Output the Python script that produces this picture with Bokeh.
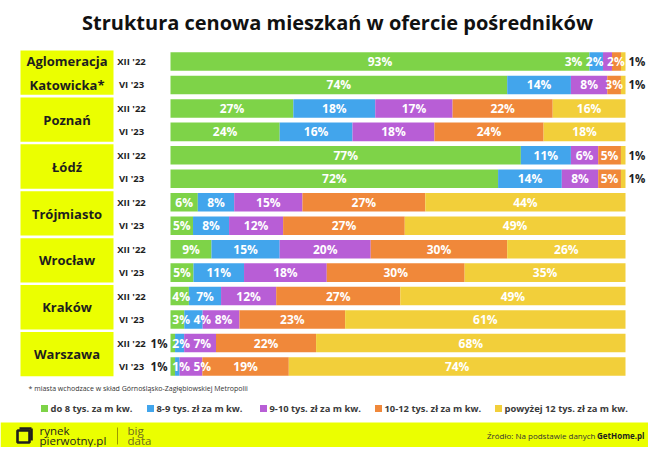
from bokeh.plotting import figure
from bokeh.models import Range1d, ColumnDataSource
from bokeh.core.properties import value
from bokeh.embed import file_html
from bokeh.resources import INLINE

# ---------------- data ----------------
cities = ["Aglomeracja\nKatowicka*", "Poznań", "Łódź", "Trójmiasto", "Wrocław", "Kraków", "Warszawa"]
periods = ["XII '22", "VI '23"]
categories = ["do 8 tys. za m kw.", "8-9 tys. zł za m kw.", "9-10 tys. zł za m kw.",
              "10-12 tys. zł za m kw.", "powyżej 12 tys. zł za m kw."]
colors = ["#7ED348", "#42A5EC", "#B85ED6", "#F0883A", "#F2CF3A"]

do8 =    [93, 74, 27, 24, 77, 72, 6, 5, 9, 5, 4, 3, 1, 1]
r8_9 =   [3, 14, 18, 16, 11, 14, 8, 8, 15, 11, 7, 4, 2, 1]
r9_10 =  [2, 8, 17, 18, 6, 8, 15, 12, 20, 18, 12, 8, 7, 5]
r10_12 = [2, 3, 22, 24, 5, 5, 27, 27, 30, 30, 27, 23, 22, 19]
pow12 =  [1, 1, 16, 18, 1, 1, 44, 49, 26, 35, 49, 61, 68, 74]
series = [do8, r8_9, r9_10, r10_12, pow12]

title = "Struktura cenowa mieszkań w ofercie pośredników"
footnote = "* miasta wchodzace w skład Górnośląsko-Zagłębiowskiej Metropolii"

# ---------------- layout helpers ----------------
W, H = 648, 447
X0, SX = 170.0, 4.55          # pixel of 0 % and pixels per %
Y0, SY = 61.0, 23.46          # pixel of row 0 and pixels per row

def dx(px):
    return (px - X0) / SX

def dy(py):
    return (py - Y0) / SY

FONT = "Open Sans"
LIME = "#EBFF00"
DARK = "#1E1E1E"

p = figure(width=W, height=H, x_range=Range1d(dx(0), dx(W)), y_range=Range1d(dy(H), dy(0)),
           output_backend="svg", toolbar_location=None, min_border=0)
p.axis.visible = False
p.grid.visible = False
p.outline_line_color = None
p.background_fill_color = "white"
p.border_fill_color = "white"

n_rows = len(do8)
rows = list(range(n_rows))

# ---------------- group boxes ----------------
box_src = dict(left=[], right=[], top=[], bottom=[])
for g in range(len(cities)):
    box_src["left"].append(dx(20))
    box_src["right"].append(dx(113))
    box_src["top"].append(2 * g - 0.47)
    box_src["bottom"].append(2 * g + 1 + 0.42)
p.quad(source=ColumnDataSource(box_src), left="left", right="right", top="top", bottom="bottom",
       fill_color=LIME, line_color=None)

for g, name in enumerate(cities):
    p.text(x=[dx(66.5)], y=[2 * g + 0.48], text=[name], text_align="center", text_baseline="middle",
           text_font=value(FONT), text_font_style="bold", text_font_size="13px", text_color=DARK,
           text_line_height=1.35)

# period labels
p.text(x=[dx(131)] * n_rows, y=rows, text=[periods[i % 2] for i in rows], text_align="center",
       text_baseline="middle", text_font=value(FONT), text_font_style="bold", text_font_size="9.5px",
       text_color=DARK)

# ---------------- bars ----------------
totals = [sum(s[i] for s in series) for i in rows]
cum = [0.0] * n_rows
seg_bounds = []
for k, s in enumerate(series):
    left = [cum[i] for i in rows]
    right = [cum[i] + s[i] * 100.0 / totals[i] for i in rows]
    cum = right
    seg_bounds.append((left, right))
    p.hbar(y=rows, left=left, right=right, height=0.79, fill_color=colors[k], line_color=None)

# ---------------- value labels ----------------
def tw(v):
    return 7.2 * len(str(v)) + 10.0   # approximate label width in px

in_x, in_y, in_t = [], [], []
out_l = dict(x=[], y=[], t=[])
out_r = dict(x=[], y=[], t=[])
last = len(series) - 1
for i in rows:
    inner = []
    for k, s in enumerate(series):
        v = s[i]
        lft, rgt = seg_bounds[k][0][i], seg_bounds[k][1][i]
        if k == 0 and v <= 1:
            out_l["x"].append(dx(X0 - 3)); out_l["y"].append(i); out_l["t"].append(f"{v}%")
        elif k == last and v <= 1:
            out_r["x"].append(dx(X0 + 100 * SX + 3)); out_r["y"].append(i); out_r["t"].append(f"{v}%")
        else:
            inner.append([X0 + (lft + rgt) / 2 * SX, v])
    pos = []
    for j, (c, v) in enumerate(inner):
        if j == 0:
            pos.append(max(c, X0 + tw(v) / 2 + 2))
        else:
            pos.append(max(c, pos[-1] + (tw(inner[j - 1][1]) + tw(v)) / 2 + 4))
    lim = X0 + 100 * SX
    for j in range(len(inner) - 1, -1, -1):
        v = inner[j][1]
        if j == len(inner) - 1:
            pos[j] = min(pos[j], lim - tw(v) / 2 - 1)
        else:
            pos[j] = min(pos[j], pos[j + 1] - (tw(v) + tw(inner[j + 1][1])) / 2 - 4)
    for j, (c, v) in enumerate(inner):
        in_x.append(dx(pos[j])); in_y.append(i); in_t.append(f"{v}%")

p.text(x=in_x, y=in_y, text=in_t, text_align="center", text_baseline="middle", text_font=value(FONT),
       text_font_style="bold", text_font_size="12px", text_color="white")
p.text(x=out_l["x"], y=out_l["y"], text=out_l["t"], text_align="right", text_baseline="middle",
       text_font=value(FONT), text_font_style="bold", text_font_size="11.5px", text_color=DARK)
p.text(x=out_r["x"], y=out_r["y"], text=out_r["t"], text_align="left", text_baseline="middle",
       text_font=value(FONT), text_font_style="bold", text_font_size="11.5px", text_color=DARK)

# ---------------- title & footnote ----------------
p.text(x=[dx(337)], y=[dy(22)], text=[title], text_align="center", text_baseline="middle",
       text_font=value(FONT), text_font_style="bold", text_font_size="20px", text_color="#111111")
p.text(x=[dx(28)], y=[dy(388)], text=[footnote], text_align="left", text_baseline="middle",
       text_font=value(FONT), text_font_size="7px", text_color="#333333")

# ---------------- legend ----------------
leg_sq = [44, 150, 263, 378, 498]
for k, cat in enumerate(categories):
    p.rect(x=[dx(leg_sq[k])], y=[dy(408)], width=7, height=7, width_units="screen", height_units="screen",
           fill_color=colors[k], line_color=None)
    p.text(x=[dx(leg_sq[k] + 6)], y=[dy(408)], text=[cat], text_align="left", text_baseline="middle",
           text_font=value(FONT), text_font_style="bold", text_font_size="9.4px", text_color="#3A3A3A")

# ---------------- footer ----------------
p.quad(left=[dx(0)], right=[dx(W)], top=[dy(422)], bottom=[dy(H + 4)], fill_color=LIME, line_color=None)
p.quad(left=[dx(17)], right=[dx(29)], top=[dy(430)], bottom=[dy(442)], fill_color=None,
       line_color=DARK, line_width=2.6)
p.line(x=[dx(19), dx(31)], y=[dy(428), dy(428)], line_color=DARK, line_width=2.6)
p.line(x=[dx(31), dx(31)], y=[dy(428), dy(440)], line_color=DARK, line_width=2.6)
p.text(x=[dx(39)] * 2, y=[dy(429.5), dy(440)], text=["rynek", "pierwotny.pl"], text_align="left",
       text_baseline="middle", text_font=value(FONT), text_font_size="11.5px", text_color=DARK)
p.line(x=[dx(117), dx(117)], y=[dy(427), dy(444)], line_color="#9A9A00", line_width=1)
p.text(x=[dx(127)] * 2, y=[dy(429.5), dy(440)], text=["big", "data"], text_align="left",
       text_baseline="middle", text_font=value(FONT), text_font_size="11.5px", text_color="#6B6B20")
p.text(x=[dx(644)], y=[dy(435)], text=["GetHome.pl"], text_align="right", text_baseline="middle",
       text_font=value(FONT), text_font_style="bold", text_font_size="8px", text_color=DARK)
p.text(x=[dx(595)], y=[dy(435)], text=["Źródło: Na podstawie danych"], text_align="right",
       text_baseline="middle", text_font=value(FONT), text_font_size="8px", text_color="#333333")

open("out.html", "w").write(file_html(p, INLINE))
